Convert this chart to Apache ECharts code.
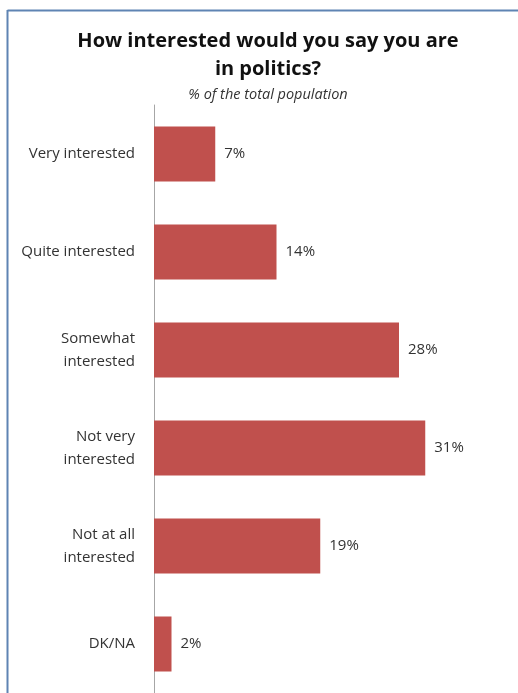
<!DOCTYPE html>
<html>
<head>
<meta charset="utf-8">
<script src="https://cdn.jsdelivr.net/npm/echarts@6/dist/echarts.min.js"></script>
<style>
html,body{margin:0;padding:0;background:#fff;}
#main{width:518px;height:693px;}
</style>
</head>
<body>
<div id="main"></div>
<script>
const categories = ["Very interested", "Quite interested", "Somewhat\ninterested", "Not very\ninterested", "Not at all\ninterested", "DK/NA"];
const values = [7, 14, 28, 31, 19, 2];

const chart = echarts.init(document.getElementById('main'), null, {renderer: 'canvas'});
const FONT = '"Open Sans", "Liberation Sans", sans-serif';
chart.setOption({
  animation: false,
  backgroundColor: '#ffffff',
  title: {
    text: 'How interested would you say you are\nin politics?',
    subtext: '% of the total population',
    left: 263,
    textAlign: 'center',
    top: 22,
    itemGap: 4,
    textStyle: {fontFamily: FONT, fontWeight: 'bold', fontSize: 20, lineHeight: 28, color: '#111'},
    subtextStyle: {fontFamily: FONT, fontStyle: 'italic', fontSize: 14.5, color: '#333'}
  },
  graphic: [
    {type: 'line', shape: {x1: 7.5, y1: 10.5, x2: 518, y2: 10.5}, style: {stroke: '#5f84b3', lineWidth: 2}},
    {type: 'line', shape: {x1: 7.5, y1: 10, x2: 7.5, y2: 693}, style: {stroke: '#5f84b3', lineWidth: 2}}
  ],
  grid: {left: 154, top: 105, width: 350, height: 593, containLabel: false},
  xAxis: {
    type: 'value', min: 0, max: 40, show: false
  },
  yAxis: {
    type: 'category', inverse: true, data: categories,
    axisLine: {show: true, lineStyle: {color: '#a6a6a6', width: 1}},
    axisTick: {show: false},
    axisLabel: {fontFamily: FONT, fontSize: 15, color: '#333', margin: 19, lineHeight: 23, align: 'right'}
  },
  series: [{
    type: 'bar',
    data: values,
    barWidth: 55,
    itemStyle: {color: '#c0504d'},
    label: {show: true, position: 'right', distance: 9, formatter: '{c}%', fontFamily: FONT, fontSize: 15, color: '#333'}
  }]
});
</script>
</body>
</html>
